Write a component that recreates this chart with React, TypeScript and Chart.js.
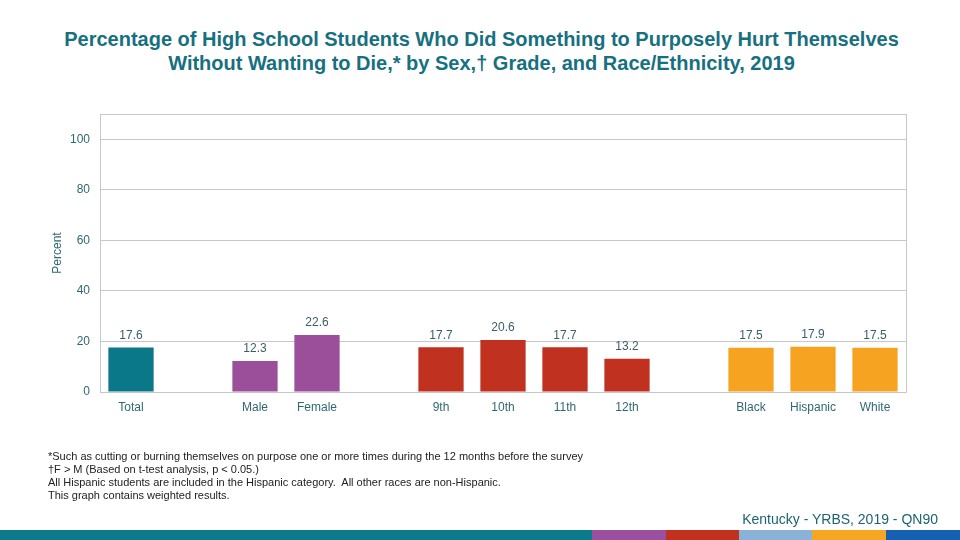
import React, { useEffect, useRef } from "react";
import { Chart, registerables } from "chart.js";

Chart.register(...registerables);

const titleLines = [
  "Percentage of High School Students Who Did Something to Purposely Hurt Themselves",
  "Without Wanting to Die,* by Sex,\u2020 Grade, and Race/Ethnicity, 2019",
];

const totalLabels = ["Total"];
const totalValues = [17.6];
const sexLabels = ["Male", "Female"];
const sexValues = [12.3, 22.6];
const gradeLabels = ["9th", "10th", "11th", "12th"];
const gradeValues = [17.7, 20.6, 17.7, 13.2];
const raceLabels = ["Black", "Hispanic", "White"];
const raceValues = [17.5, 17.9, 17.5];

const yTicks = [0, 20, 40, 60, 80, 100];
const yMax = 110;

const groupColors = ["#0b788a", "#9b4f9b", "#c0311f", "#f5a320"];

const footnotes = [
  "*Such as cutting or burning themselves on purpose one or more times during the 12 months before the survey",
  "\u2020F > M (Based on t-test analysis, p < 0.05.)",
  "All Hispanic students are included in the Hispanic category.  All other races are non-Hispanic.",
  "This graph contains weighted results.",
];
const sourceText = "Kentucky - YRBS, 2019 - QN90";

const stripColors = ["#0b7a8a", "#9b4f9f", "#c0311f", "#8ab2d6", "#f5a623", "#1560b0"];
const stripWidths = [592, 74, 73, 73, 74, 74];

const groups = [
  { labels: totalLabels, values: totalValues },
  { labels: sexLabels, values: sexValues },
  { labels: gradeLabels, values: gradeValues },
  { labels: raceLabels, values: raceValues },
];

function buildData() {
  const labels: string[] = [];
  const values: (number | null)[] = [];
  const colors: string[] = [];
  groups.forEach((g, gi) => {
    if (gi > 0) {
      labels.push("");
      values.push(null);
      colors.push("rgba(0,0,0,0)");
    }
    g.labels.forEach((l, i) => {
      labels.push(l);
      values.push(g.values[i]);
      colors.push(groupColors[gi]);
    });
  });
  return { labels, values, colors };
}

const FONT = "'Liberation Sans', Arial, sans-serif";

const framePlugin = {
  id: "frame",
  afterDraw(chart: any) {
    const { ctx, chartArea } = chart;
    ctx.save();
    ctx.strokeStyle = "#c8c8c8";
    ctx.lineWidth = 1;
    ctx.strokeRect(
      Math.round(chartArea.left) + 0.5,
      Math.round(chartArea.top) + 0.5,
      Math.round(chartArea.right - chartArea.left),
      Math.round(chartArea.bottom - chartArea.top)
    );
    ctx.restore();
  },
};

const valueLabelPlugin = {
  id: "valueLabels",
  afterDatasetsDraw(chart: any) {
    const { ctx } = chart;
    const meta = chart.getDatasetMeta(0);
    const data = chart.data.datasets[0].data;
    ctx.save();
    ctx.font = `12px ${FONT}`;
    ctx.fillStyle = "#3a5f68";
    ctx.textAlign = "center";
    ctx.textBaseline = "bottom";
    meta.data.forEach((bar: any, i: number) => {
      const v = data[i];
      if (v === null || v === undefined) return;
      ctx.fillText(Number(v).toFixed(1), bar.x, bar.y - 6);
    });
    ctx.restore();
  },
};

export default function App() {
  const canvasRef = useRef<HTMLCanvasElement | null>(null);

  useEffect(() => {
    const { labels, values, colors } = buildData();
    const chart = new Chart(canvasRef.current as HTMLCanvasElement, {
      type: "bar",
      data: {
        labels,
        datasets: [
          {
            data: values,
            backgroundColor: colors,
            categoryPercentage: 1,
            barPercentage: 0.73,
          },
        ],
      },
      options: {
        animation: false,
        responsive: false,
        maintainAspectRatio: false,
        devicePixelRatio: 1,
        layout: { padding: { left: 48, right: 54, top: 114, bottom: 118 } },
        plugins: {
          legend: { display: false },
          tooltip: { enabled: false },
          title: { display: false },
        },
        scales: {
          x: {
            grid: { display: false, drawTicks: false },
            border: { display: false },
            ticks: {
              color: "#2f6872",
              font: { family: FONT, size: 12 },
              padding: 8,
              maxRotation: 0,
              autoSkip: false,
            },
            afterFit(scale: any) {
              scale.height = 30;
            },
          },
          y: {
            min: 0,
            max: yMax,
            afterBuildTicks(scale: any) {
              scale.ticks = [...yTicks, yMax].map((v) => ({ value: v }));
            },
            grid: { color: "#c8c8c8", drawTicks: false, lineWidth: 1 },
            border: { display: false },
            ticks: {
              color: "#2f6872",
              font: { family: FONT, size: 12 },
              padding: 10,
              callback: (v: any) => (yTicks.includes(Number(v)) ? String(v) : ""),
            },
            title: {
              display: true,
              text: "Percent",
              color: "#2f6872",
              font: { family: FONT, size: 12 },
              padding: { top: 2, bottom: 0 },
            },
            afterFit(scale: any) {
              scale.width = 52;
            },
          },
        },
      },
      plugins: [framePlugin, valueLabelPlugin],
    });
    return () => chart.destroy();
  }, []);

  return (
    <div
      style={{
        position: "absolute",
        left: 0,
        top: 0,
        width: 960,
        height: 540,
        background: "#ffffff",
        overflow: "hidden",
        fontFamily: FONT,
      }}
    >
      <div
        style={{
          position: "absolute",
          left: 0,
          top: 27,
          width: 963,
          textAlign: "center",
          color: "#17707f",
          fontWeight: "bold",
          fontSize: 20,
          lineHeight: "24px",
        }}
      >
        {titleLines.map((t, i) => (
          <div key={i}>{t}</div>
        ))}
      </div>
      <canvas
        ref={canvasRef}
        width={960}
        height={540}
        style={{ position: "absolute", left: 0, top: 0, width: 960, height: 540 }}
      />
      <div
        style={{
          position: "absolute",
          left: 48,
          top: 450,
          color: "#222222",
          fontSize: 11,
          lineHeight: "13px",
          whiteSpace: "pre",
        }}
      >
        {footnotes.map((t, i) => (
          <div key={i}>{t}</div>
        ))}
      </div>
      <div
        style={{
          position: "absolute",
          right: 22,
          top: 511,
          color: "#1d6470",
          fontSize: 14,
          lineHeight: "16px",
          whiteSpace: "pre",
        }}
      >
        {sourceText}
      </div>
      <div style={{ position: "absolute", left: 0, top: 530, width: 960, height: 10, display: "flex" }}>
        {stripColors.map((c, i) => (
          <div key={i} style={{ width: stripWidths[i], height: 10, background: c }} />
        ))}
      </div>
    </div>
  );
}
